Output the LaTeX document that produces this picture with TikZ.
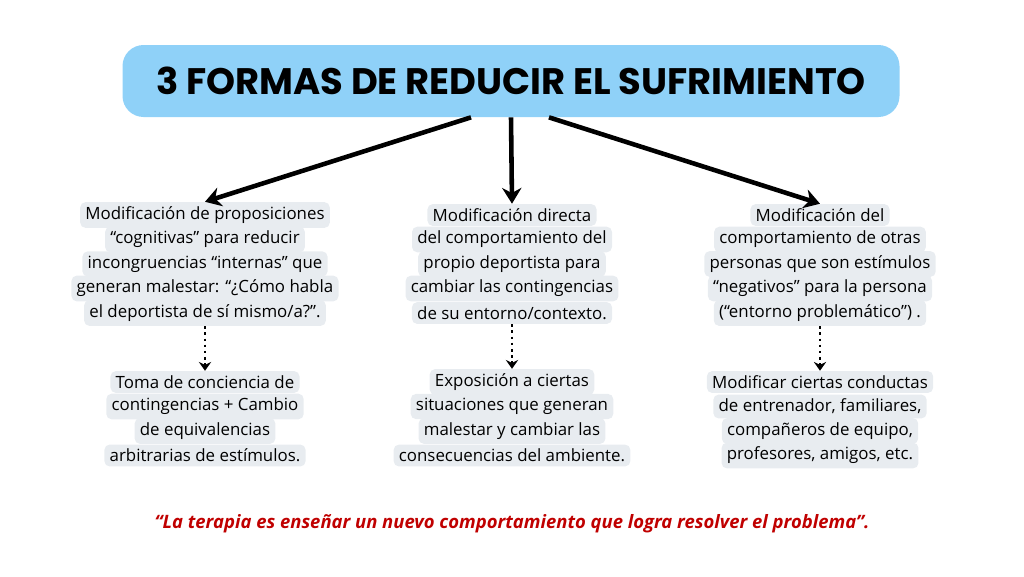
\documentclass[tikz,border=0pt]{standalone}
\usepackage{fontspec}
\setmainfont{Open Sans}
\newfontfamily\titlefont{Poppins}
\usetikzlibrary{arrows.meta,positioning}
\definecolor{titleblue}{HTML}{8FD1F8}
\definecolor{hlgray}{HTML}{E8ECF0}
\definecolor{quotered}{HTML}{C00000}
\tikzset{
  hl/.style={fill=hlgray,rounded corners=3pt,inner xsep=3pt,inner ysep=2.5pt,
             font=\fontsize{9.6}{11}\selectfont},
  mainarrow/.style={-{Stealth[length=9pt,width=11pt]},line width=2.6pt},
  dotarrow/.style={-{Stealth[length=5pt,width=7pt]},line width=1.5pt,dotted}
}
\begin{document}
\begin{tikzpicture}[x=0.02cm,y=-0.02cm]
  \useasboundingbox (0,0) rectangle (1024,576);

  \node[fill=titleblue,rounded corners=12pt,minimum width=777*0.02cm,
        minimum height=72*0.02cm,font=\titlefont\bfseries\fontsize{21}{24}\selectfont]
        (title) at (511,81) {3 FORMAS DE REDUCIR EL SUFRIMIENTO};

  % upper blocks
  \foreach \t [count=\i] in {Modificación de proposiciones,
      “cognitivas” para reducir, incongruencias “internas” que,
      generan malestar: “¿Cómo habla, el deportista de sí mismo/a?”.}
    \node[hl] (a\i) at (205,215+24.5*\i-24.5) {\t};
  \foreach \t [count=\i] in {Modificación directa,
      del comportamiento del, propio deportista para,
      cambiar las contingencias, de su entorno/contexto.}
    \node[hl] (b\i) at (512,215+24.5*\i-24.5) {\t};
  \foreach \t [count=\i] in {Modificación del,
      comportamiento de otras, personas que son estímulos,
      “negativos” para la persona, (“entorno problemático”) .}
    \node[hl] (c\i) at (820,215+24.5*\i-24.5) {\t};

  % lower blocks
  \foreach \t [count=\i] in {Toma de conciencia de,
      contingencias + Cambio, de equivalencias, arbitrarias de estímulos.}
    \node[hl] (d\i) at (205,382+24.5*\i-24.5) {\t};
  \foreach \t [count=\i] in {Exposición a ciertas,
      situaciones que generan, malestar y cambiar las,
      consecuencias del ambiente.}
    \node[hl] (e\i) at (512,382+24.5*\i-24.5) {\t};
  \foreach \t [count=\i] in {Modificar ciertas conductas,
      {de entrenador, familiares,}, {compañeros de equipo,},
      {profesores, amigos, etc.}}
    \node[hl] (f\i) at (820,382+24.5*\i-24.5) {\t};

  \draw[mainarrow] ([xshift=-40*0.02cm]title.south) -- (a1.north);
  \draw[mainarrow] (title.south) -- (b1.north);
  \draw[mainarrow] ([xshift=38*0.02cm]title.south) -- (c1.north);

  \draw[dotarrow] (a5.south) -- (d1.north);
  \draw[dotarrow] (b5.south) -- (e1.north);
  \draw[dotarrow] (c5.south) -- (f1.north);

  \node[text=quotered,font=\bfseries\itshape\fontsize{10.5}{12}\selectfont] (quote) at (512,524)
    {“La terapia es enseñar un nuevo comportamiento que logra resolver el problema”.};
\end{tikzpicture}
\end{document}
